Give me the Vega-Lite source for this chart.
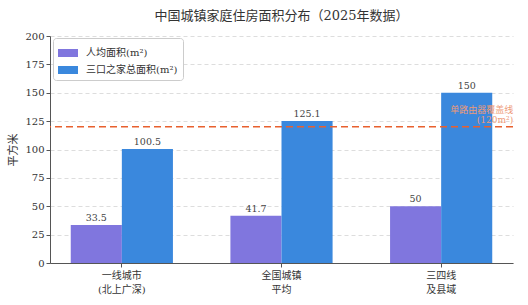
{
  "$schema": "https://vega.github.io/schema/vega-lite/v6.json",
  "width": 463,
  "height": 227,
  "autosize": {"type": "none"},
  "padding": {"left": 50, "top": 36, "right": 15, "bottom": 42},
  "background": "white",
  "title": {
    "text": "中国城镇家庭住房面积分布（2025年数据）",
    "fontSize": 13,
    "fontWeight": "normal",
    "color": "#333333",
    "offset": 8,
    "anchor": "middle"
  },
  "config": {
    "font": "DejaVu Serif, Noto Sans CJK SC",
    "view": {"stroke": null},
    "axis": {
      "domainColor": "#555555",
      "tickColor": "#555555",
      "labelColor": "#333333",
      "titleColor": "#333333",
      "labelFontSize": 10,
      "titleFontSize": 11,
      "titleFontWeight": "normal"
    },
    "axisY": {"labelOverlap": false}
  },
  "datasets": {
    "bars": [
      {"region": "一线城市|(北上广深)", "metric": "人均面积(m²)", "value": 33.5},
      {"region": "一线城市|(北上广深)", "metric": "三口之家总面积(m²)", "value": 100.5},
      {"region": "全国城镇|平均", "metric": "人均面积(m²)", "value": 41.7},
      {"region": "全国城镇|平均", "metric": "三口之家总面积(m²)", "value": 125.1},
      {"region": "三四线|及县域", "metric": "人均面积(m²)", "value": 50},
      {"region": "三四线|及县域", "metric": "三口之家总面积(m²)", "value": 150}
    ],
    "ref": [
      {"value": 120, "region": "三四线|及县域", "label1": "单路由器覆盖线", "label2": "(120m²)"}
    ]
  },
  "encoding": {
    "y": {
      "field": "value",
      "type": "quantitative",
      "scale": {"domain": [0, 200], "nice": false},
      "axis": {
        "title": "平方米",
        "values": [0, 25, 50, 75, 100, 125, 150, 175, 200],
        "labelOverlap": false,
        "tickSize": 4,
        "labelPadding": 2,
        "titlePadding": 6,
        "gridDash": [4, 3],
        "gridColor": "#dddddd",
        "grid": true
      }
    }
  },
  "layer": [
    {
      "data": {"name": "bars"},
      "mark": {"type": "bar"},
      "encoding": {
        "x": {
          "field": "region",
          "type": "nominal",
          "sort": null,
          "scale": {"paddingInner": 0.36, "paddingOuter": 0.13},
          "axis": {
            "title": null,
            "labelAngle": 0,
            "labelExpr": "split(datum.label, '|')",
            "labelLineHeight": 14,
            "labelFontSize": 10,
            "labelPadding": 3,
            "tickSize": 4,
            "labelBaseline": "top"
          }
        },
        "xOffset": {
          "field": "metric",
          "type": "nominal",
          "sort": ["人均面积(m²)", "三口之家总面积(m²)"],
          "scale": {"paddingInner": 0, "paddingOuter": 0}
        },
        "color": {
          "field": "metric",
          "type": "nominal",
          "sort": ["人均面积(m²)", "三口之家总面积(m²)"],
          "scale": {"range": ["#8076de", "#3a88dd"]},
          "legend": {
            "title": null,
            "orient": "none",
            "legendX": 3,
            "legendY": 2,
            "symbolType": "M-1,-0.4H1V0.4H-1Z",
            "symbolSize": 400,
            "symbolStrokeWidth": 0,
            "labelFontSize": 10,
            "labelOffset": 8,
            "labelColor": "#333333",
            "strokeColor": "#cccccc",
            "fillColor": "white",
            "padding": 5,
            "cornerRadius": 3,
            "rowPadding": 2
          }
        }
      }
    },
    {
      "data": {"name": "bars"},
      "mark": {"type": "text", "dy": -7, "fontSize": 9.5, "color": "#444444"},
      "encoding": {
        "x": {"field": "region", "type": "nominal", "sort": null},
        "xOffset": {"field": "metric", "type": "nominal", "sort": ["人均面积(m²)", "三口之家总面积(m²)"]},
        "text": {"field": "value", "type": "quantitative", "format": "~f"}
      }
    },
    {
      "data": {"name": "ref"},
      "mark": {"type": "rule", "color": "#e8602e", "strokeDash": [7, 4], "strokeWidth": 1.6},
      "encoding": {}
    },
    {
      "data": {"name": "ref"},
      "mark": {"type": "text", "align": "right", "dx": 72, "dy": -17, "fontSize": 9, "color": "#ee9a78"},
      "encoding": {
        "x": {"field": "region", "type": "nominal", "sort": null},
        "text": {"field": "label1"}
      }
    },
    {
      "data": {"name": "ref"},
      "mark": {"type": "text", "align": "right", "dx": 72, "dy": -7, "fontSize": 9, "color": "#ee9a78"},
      "encoding": {
        "x": {"field": "region", "type": "nominal", "sort": null},
        "text": {"field": "label2"}
      }
    }
  ]
}
